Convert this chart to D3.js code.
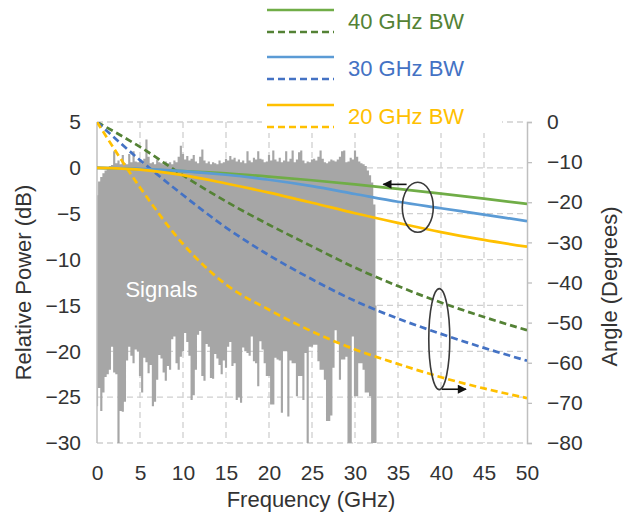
<!DOCTYPE html>
<html><head><meta charset="utf-8">
<script src="https://cdn.jsdelivr.net/npm/d3@7"></script>
<style>html,body{margin:0;padding:0;background:#fff;} svg{display:block;font-family:"Liberation Sans",Arial,sans-serif;}</style>
</head><body><svg id="chart" width="633" height="516"></svg>
<script>
// ---------------- data ----------------
const freqTicks = [0,5,10,15,20,25,30,35,40,45,50];
const powerTicks = [5,0,-5,-10,-15,-20,-25,-30];
const angleTicks = [0,-10,-20,-30,-40,-50,-60,-70,-80];

const bwLabels = ["40 GHz BW","30 GHz BW","20 GHz BW"];
const curveFreq = [0,5,10,15,20,25,30,35,40,45,50];
// relative power (dB, left axis) - solid lines
const power40 = [0,-0.15,-0.35,-0.6,-0.95,-1.35,-1.8,-2.3,-2.8,-3.35,-3.93];
const power30 = [0,-0.1,-0.35,-0.75,-1.3,-2.0,-2.85,-3.7,-4.4,-5.1,-5.8];
const power20 = [0,-0.2,-0.8,-1.7,-2.7,-3.8,-4.95,-6.0,-7.0,-7.85,-8.6];
// angle (degrees, right axis) - dashed lines
const angle40 = [0,-6.2,-13.3,-19.8,-25.6,-31,-36.3,-40.9,-45.0,-48.6,-51.9];
const angle30 = [0,-9.5,-18.2,-26.3,-33.2,-39.2,-44.6,-49.0,-52.8,-56.3,-59.5];
const angle20 = [0,-16.3,-30.4,-40.5,-46.8,-52.2,-56.7,-60.3,-63.6,-66.4,-68.8];

// measured signal spectrum, sampled every 0.25 GHz from 0 GHz (upper / lower envelope, dB)
const sigStartGHz = 0;
const sigStepGHz = 0.25;
const sigTop = [
 -3.0,-1.5,-1.0,-0.6,-0.3,0.0,0.2,0.3,1.8,0.5,0.8,0.4,1.4,0.5,0.4,1.5,0.6,1.8,0.7,0.6,
 0.9,0.5,1.0,3.1,1.2,0.5,0.6,0.4,0.9,0.6,0.5,0.4,0.7,0.5,0.6,0.4,0.8,0.6,1.2,2.4,
 1.5,0.9,1.3,0.8,1.0,1.4,0.7,0.5,1.2,2.0,0.8,0.5,0.7,0.4,0.6,0.5,0.4,0.8,0.5,0.6,
 1.0,0.8,1.3,0.9,1.1,0.7,0.9,
 0.6,0.8,0.5,1.8,0.8,0.6,1.1,0.9,1.8,1.0,0.9,0.6,0.7,1.4,0.8,1.9,0.9,0.7,1.1,0.6,
 0.8,1.8,0.7,1.0,1.9,0.6,0.9,1.7,1.9,0.8,0.5,0.7,0.6,0.9,1.0,0.8,1.2,1.9,1.0,0.6,
 0.5,0.7,0.9,0.8,0.7,0.9,1.2,1.8,1.9,0.6,0.7,1.1,0.9,1.9,1.2,0.7,0.5,0.4,0.2,-0.3,
 -0.8,-1.6,-4.0,-15
];
const sigBottom = [
 -26,-24,-26.5,-24.5,-22.8,-22.5,-22.0,-19.5,-22.3,-22.5,-30,-26.5,-26.6,-25.5,-21.0,-19.5,-20.5,-21.3,-19.8,-20.0,
 -22.7,-24.5,-20.7,-21.2,-22.4,-21.5,-26.0,-25.5,-23.1,-20.4,-20.8,-22.3,-23.2,-21.6,-22.0,-18.7,-18.4,-21.3,-22.0,-20.6,
 -20.0,-18.0,-19.0,-20.5,-25.3,-24.8,-22.0,-18.2,-17.8,-22.7,-23.2,-19.2,-19.5,-22.9,-23.0,-20.3,-20.8,-21.5,-22.5,-21.0,
 -21.8,-19.5,-19.0,-21.6,-21.3,-25.3,-25.0,
 -25.6,-19.6,-20.0,-20.2,-20.5,-18.4,-21.1,-21.3,-23.8,-18.9,-19.8,-21.3,-22.7,-22.7,-25.8,-25.8,-20.7,-20.9,-21.0,-26.7,
 -20.0,-20.0,-27.1,-21.0,-21.3,-21.3,-24.9,-22.7,-22.7,-25.3,-20.2,-30,-19.5,-19.5,-19.3,-19.3,-21.1,-22.0,-22.0,-23.1,
 -27.6,-27.6,-27.0,-21.8,-17.7,-19.0,-23.1,-20.9,-20.9,-20.6,-30,-30,-18.4,-24.9,-24.9,-21.3,-21.3,-22.0,-24.5,-24.5,
 -24.9,-30,-30,-30
];

const colors = {
  solid: ["#70AD47","#5B9BD5","#FFC000"],
  dashed: ["#548235","#4472C4","#FFC000"],
  text: ["#548235","#4472C4","#FFC000"],
  signal: "#A6A6A6", grid: "#D0D0D0", axis: "#BFBFBF", label: "#333333"
};

// ---------------- layout ----------------
const svg = d3.select("#chart");
const plot = {left: 97, right: 527, top: 122, bottom: 443};
const x = d3.scaleLinear().domain([0,50]).range([plot.left, plot.right]);
const yL = d3.scaleLinear().domain([-30,5]).range([plot.bottom, plot.top]);
const yR = d3.scaleLinear().domain([-80,0]).range([plot.bottom, plot.top]);

const defs = svg.append("defs");
defs.append("clipPath").attr("id","clip")
  .append("rect").attr("x",plot.left).attr("y",plot.top)
  .attr("width",plot.right-plot.left).attr("height",plot.bottom-plot.top);

// grid
const grid = svg.append("g").attr("stroke", colors.grid).attr("stroke-width",1.3).attr("stroke-dasharray","6,4");
freqTicks.filter(f => f>0 && f<50).forEach(f => {
  grid.append("line").attr("x1",x(f)).attr("x2",x(f)).attr("y1",plot.top).attr("y2",plot.bottom);
});
powerTicks.forEach(p => {
  grid.append("line").attr("x1",plot.left).attr("x2",plot.right).attr("y1",yL(p)).attr("y2",yL(p));
});

// signal (filled between lower and upper envelope)
const sigData = sigTop.map((t,i) => ({f: sigStartGHz + i*sigStepGHz, top: t, bottom: sigBottom[i]}));
const sigArea = d3.area().x(d => x(d.f)).y0(d => yL(d.bottom)).y1(d => yL(d.top)).curve(d3.curveStep);
svg.append("path").attr("clip-path","url(#clip)").attr("d", sigArea(sigData)).attr("fill", colors.signal);

// axes lines
svg.append("line").attr("x1",plot.left).attr("x2",plot.left).attr("y1",plot.top).attr("y2",plot.bottom)
  .attr("stroke",colors.axis).attr("stroke-width",1.5);
const rAxis = d3.axisRight(yR).tickValues(angleTicks).tickSize(5).tickPadding(15).tickFormat(d3.format("d"));
const rg = svg.append("g").attr("transform",`translate(${plot.right},0)`).call(rAxis);
rg.select(".domain").attr("stroke",colors.axis).attr("stroke-width",1.5);
rg.selectAll(".tick line").attr("stroke",colors.axis).attr("stroke-width",1.3);
rg.selectAll(".tick text").attr("fill",colors.label).attr("font-size",21).attr("font-family","Liberation Sans, Arial, sans-serif");

const lAxis = d3.axisLeft(yL).tickValues(powerTicks).tickSize(0).tickPadding(16).tickFormat(d3.format("d"));
const lg = svg.append("g").attr("transform",`translate(${plot.left},0)`).call(lAxis);
lg.select(".domain").remove();
lg.selectAll(".tick text").attr("fill",colors.label).attr("font-size",21).attr("font-family","Liberation Sans, Arial, sans-serif");

const bAxis = d3.axisBottom(x).tickValues(freqTicks).tickSize(0).tickPadding(22).tickFormat(d3.format("d"));
const bg = svg.append("g").attr("transform",`translate(0,${plot.bottom})`).call(bAxis);
bg.select(".domain").remove();
bg.selectAll(".tick text").attr("fill",colors.label).attr("font-size",21).attr("font-family","Liberation Sans, Arial, sans-serif");

// titles
svg.append("text").attr("x", (plot.left+plot.right)/2 - 1).attr("y", 507)
  .attr("text-anchor","middle").attr("font-size",22).attr("fill",colors.label).text("Frequency (GHz)");
svg.append("text").attr("transform",`translate(31,${(plot.top+plot.bottom)/2}) rotate(-90)`)
  .attr("text-anchor","middle").attr("font-size",22).attr("fill",colors.label).text("Relative Power (dB)");
svg.append("text").attr("transform",`translate(617,${(plot.top+plot.bottom)/2 + 4}) rotate(-90)`)
  .attr("text-anchor","middle").attr("font-size",22).attr("fill",colors.label).text("Angle (Degrees)");

// Signals label
svg.append("text").attr("x", x(3.3)).attr("y", yL(-14.1)).attr("font-size",22).attr("fill","#ffffff").text("Signals");

// curves
const lineL = d3.line().x((d,i) => x(curveFreq[i])).y(d => yL(d)).curve(d3.curveMonotoneX);
const lineR = d3.line().x((d,i) => x(curveFreq[i])).y(d => yR(d)).curve(d3.curveMonotoneX);
const cg = svg.append("g").attr("clip-path","url(#clip)").attr("fill","none");
[angle40, angle30, angle20].forEach((s,i) => {
  cg.append("path").attr("d", lineR(s)).attr("stroke", colors.dashed[i]).attr("stroke-width",2.7).attr("stroke-dasharray","7,4");
});
[power40, power30, power20].forEach((s,i) => {
  cg.append("path").attr("d", lineL(s)).attr("stroke", colors.solid[i]).attr("stroke-width",2.7);
});

// annotations
defs.append("marker").attr("id","arr").attr("viewBox","0 0 10 10")
  .attr("refX",9).attr("refY",5).attr("markerWidth",13).attr("markerHeight",9)
  .attr("markerUnits","userSpaceOnUse").attr("orient","auto")
  .append("path").attr("d","M0,0 L10,5 L0,10 Z").attr("fill","#111");
const an = svg.append("g").attr("fill","none").attr("stroke","#3a3a3a").attr("stroke-width",1.6);
an.append("ellipse").attr("cx", x(37.3)).attr("cy", yL(-4.3)).attr("rx",15.5).attr("ry",25);
an.append("line").attr("x1", x(36.0)).attr("y1", yL(-1.8)).attr("x2", x(33.3)).attr("y2", yL(-1.8))
  .attr("stroke","#111").attr("marker-end","url(#arr)");
an.append("ellipse").attr("cx", x(39.8)).attr("cy", yR(-54.1)).attr("rx",10.5).attr("ry",50.5);
an.append("line").attr("x1", x(40.1)).attr("y1", yR(-66.6)).attr("x2", x(42.9)).attr("y2", yR(-66.6))
  .attr("stroke","#111").attr("marker-end","url(#arr)");

// legend (white box hides the grid behind it)
const leg = svg.append("g");
leg.append("rect").attr("x",262).attr("y",0).attr("width",240).attr("height",133).attr("fill","#ffffff");
const legRowY = [10, 57, 105];
bwLabels.forEach((lab,i) => {
  const y0 = legRowY[i];
  leg.append("line").attr("x1",267).attr("x2",334).attr("y1",y0).attr("y2",y0)
    .attr("stroke",colors.solid[i]).attr("stroke-width",2.7);
  leg.append("line").attr("x1",267).attr("x2",334).attr("y1",y0+22).attr("y2",y0+22)
    .attr("stroke",colors.dashed[i]).attr("stroke-width",2.7).attr("stroke-dasharray","7,4");
  leg.append("text").attr("x",348).attr("y",y0+19).attr("font-size",22).attr("fill",colors.text[i]).text(lab);
});
</script>
</body></html>
